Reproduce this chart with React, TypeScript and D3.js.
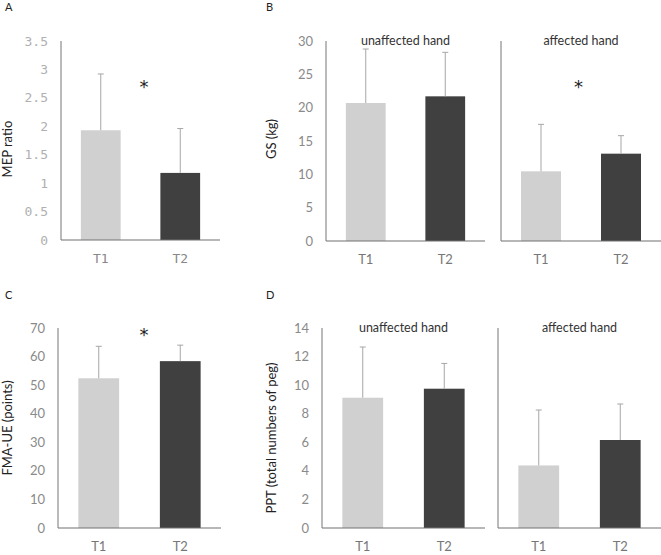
import React from "react";
import * as d3 from "d3";

const timepoints = ["T1", "T2"];

const mepMean = [1.93, 1.18];
const mepSD = [0.99, 0.78];
const mepTicks = [0, 0.5, 1, 1.5, 2, 2.5, 3, 3.5];

const gsUnaffMean = [20.7, 21.7];
const gsUnaffSD = [8.1, 6.6];
const gsAffMean = [10.45, 13.1];
const gsAffSD = [7.05, 2.7];
const gsTicks = [0, 5, 10, 15, 20, 25, 30];

const fmaMean = [52.4, 58.4];
const fmaSD = [11.2, 5.6];
const fmaTicks = [0, 10, 20, 30, 40, 50, 60, 70];

const pptUnaffMean = [9.12, 9.75];
const pptUnaffSD = [3.55, 1.77];
const pptAffMean = [4.38, 6.16];
const pptAffSD = [3.88, 2.52];
const pptTicks = [0, 2, 4, 6, 8, 10, 12, 14];

const barColors = ["#d0d0d0", "#404040"];
const SANS = "Lato, 'Noto Sans', sans-serif";
const MONO = "'DejaVu Sans Mono', monospace";

type SubProps = {
  x0: number;
  x1: number;
  yTop: number;
  yBase: number;
  max: number;
  means: number[];
  sds: number[];
  ticks?: number[];
  tickFont?: string;
  tickColor?: string;
  tickFormat?: (v: number) => string;
  subtitle?: string;
  star?: boolean;
  starY?: number;
  starDx?: number;
  catFont?: string;
  catColor?: string;
};

function Sub(p: SubProps) {
  const x = d3.scaleBand<string>().domain(timepoints).range([p.x0, p.x1]).paddingInner(0.5).paddingOuter(0.25);
  const y = d3.scaleLinear().domain([0, p.max]).range([p.yBase, p.yTop]);
  const fmt = p.tickFormat || ((v: number) => String(v));
  return (
    <g>
      {p.ticks &&
        p.ticks.map((t) => (
          <text
            key={"t" + t}
            x={p.x0 - 13}
            y={y(t)}
            dy="0.35em"
            textAnchor="end"
            fontFamily={p.tickFont || SANS}
            fontSize={13}
            fill={p.tickColor || "#8a8a8a"}
          >
            {fmt(t)}
          </text>
        ))}
      {timepoints.map((c, i) => {
        const bx = x(c)!;
        const bw = x.bandwidth();
        const cx = bx + bw / 2;
        const top = y(p.means[i]);
        const et = y(p.means[i] + p.sds[i]);
        return (
          <g key={c}>
            <rect x={bx} y={top} width={bw} height={p.yBase - top} fill={barColors[i]} />
            <line x1={cx} x2={cx} y1={top} y2={et} stroke="#a6a6a6" strokeWidth={1} />
            <line x1={cx - 3} x2={cx + 3} y1={et} y2={et} stroke="#a6a6a6" strokeWidth={1} />
            <text
              x={cx}
              y={p.yBase + 23}
              textAnchor="middle"
              fontFamily={p.catFont || SANS}
              fontSize={13}
              fill={p.catColor || "#777"}
            >
              {c}
            </text>
          </g>
        );
      })}
      <line x1={p.x0} x2={p.x0} y1={p.yTop} y2={p.yBase} stroke="#8c8c8c" strokeWidth={1.2} />
      <line x1={p.x0} x2={p.x1} y1={p.yBase} y2={p.yBase} stroke="#707070" strokeWidth={1.2} />
      {p.subtitle && (
        <text x={(p.x0 + p.x1) / 2} y={p.yTop + 4} textAnchor="middle" fontFamily={SANS} fontSize={12.5} fill="#333">
          {p.subtitle}
        </text>
      )}
      {p.star && (
        <text x={(p.x0 + p.x1) / 2 + (p.starDx || 0)} y={p.starY} textAnchor="middle" fontFamily="'DejaVu Sans', sans-serif" fontSize={18} fill="#222">
          *
        </text>
      )}
    </g>
  );
}

function YTitle({ x, y, text }: { x: number; y: number; text: string }) {
  return (
    <text transform={`translate(${x},${y}) rotate(-90)`} textAnchor="middle" fontFamily={SANS} fontSize={13} fill="#222">
      {text}
    </text>
  );
}

function Letter({ x, y, text }: { x: number; y: number; text: string }) {
  return (
    <text x={x} y={y} fontFamily={SANS} fontSize={11} fill="#222">
      {text}
    </text>
  );
}

export default function App() {
  return (
    <svg width={661} height={555} style={{ position: "absolute", left: 0, top: 0, background: "#fff" }}>
      <rect width={661} height={555} fill="#fff" />
      <Letter x={5} y={11} text="A" />
      <Letter x={266} y={11} text="B" />
      <Letter x={5} y={299} text="C" />
      <Letter x={266} y={299} text="D" />

      <YTitle x={12} y={149} text="MEP ratio" />
      <Sub x0={61} x1={220} yTop={41} yBase={240} max={3.5} means={mepMean} sds={mepSD} ticks={mepTicks}
        tickFont={MONO} tickColor="#b0b0b0" tickFormat={(v) => String(v)} star starY={93} starDx={3.5}
        catFont={MONO} catColor="#888" />

      <YTitle x={276} y={139} text="GS (kg)" />
      <Sub x0={326} x1={485} yTop={41} yBase={241} max={30} means={gsUnaffMean} sds={gsUnaffSD} ticks={gsTicks}
        subtitle="unaffected hand" />
      <Sub x0={501} x1={661} yTop={41} yBase={241} max={30} means={gsAffMean} sds={gsAffSD}
        subtitle="affected hand" star starY={93} starDx={-2.5} />

      <YTitle x={12} y={428} text="FMA-UE (points)" />
      <Sub x0={58} x1={221} yTop={328} yBase={528} max={70} means={fmaMean} sds={fmaSD} ticks={fmaTicks}
        star starY={341} starDx={4.5} />

      <YTitle x={276} y={438} text="PPT (total numbers of peg)" />
      <Sub x0={322} x1={485} yTop={328} yBase={528} max={14} means={pptUnaffMean} sds={pptUnaffSD} ticks={pptTicks}
        subtitle="unaffected hand" />
      <Sub x0={498} x1={661} yTop={328} yBase={528} max={14} means={pptAffMean} sds={pptAffSD}
        subtitle="affected hand" />
    </svg>
  );
}
